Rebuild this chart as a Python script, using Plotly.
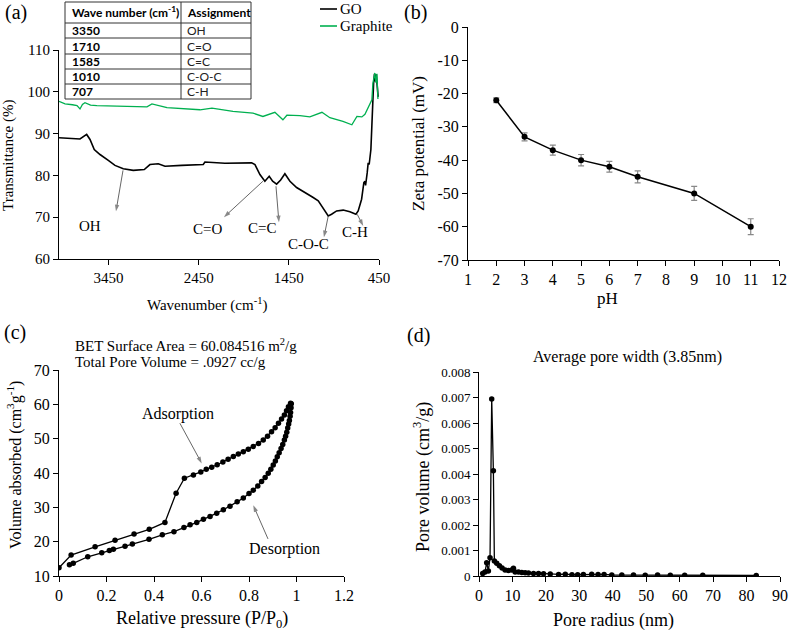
import plotly.graph_objects as go

W, H = 791, 631

# ---------------- data ----------------
# (a) FTIR
go_wavenumber = [4000, 3767, 3693, 3656, 3609, 3545, 3453, 3379, 3287, 3176, 3054, 2991, 2899, 2824, 2639,
                 2445, 2400, 2381, 2159, 1863, 1826, 1771, 1716, 1668, 1630, 1586, 1541, 1494, 1438, 1364,
                 1272, 1180, 1124, 1069, 1013, 976, 920, 847, 773, 706, 681, 643, 625, 618, 606, 599, 581,
                 570, 559, 540, 529, 522, 510, 500, 490, 480, 470, 460]
go_trans = [89.0, 88.7, 89.8, 88.6, 86.2, 85.0, 83.6, 82.4, 81.6, 81.2, 81.4, 82.6, 82.8, 82.2, 82.4,
            82.6, 82.6, 83.2, 82.9, 83.0, 82.6, 80.2, 78.6, 79.8, 78.6, 77.9, 78.9, 80.4, 78.6, 77.1,
            76.0, 74.7, 73.9, 72.1, 70.3, 70.7, 71.5, 71.7, 71.3, 70.7, 71.5, 74.3, 76.7, 78.3, 78.6, 77.6,
            80.6, 83.0, 82.6, 86.2, 92.0, 98.5, 102.0, 104.3, 102.5, 104.2, 102.0, 98.8]
graphite_wavenumber = [4000, 3933, 3850, 3800, 3767, 3740, 3712, 3650, 3579, 3300, 3024, 2969, 2802, 2436,
                       2303, 2070, 1848, 1738, 1605, 1516, 1472, 1327, 1217, 1083, 995, 850, 751, 695, 640,
                       606, 573, 529, 518, 496, 484, 473, 462]
graphite_trans = [97.7, 97.1, 96.9, 96.7, 95.9, 97.0, 97.4, 96.8, 96.7, 96.5, 96.4, 97.1, 96.2, 95.7,
                  96.1, 95.3, 94.9, 94.1, 95.1, 93.3, 94.4, 94.3, 94.0, 95.1, 93.8, 92.9, 92.1, 94.1, 94.0,
                  94.6, 96.2, 98.1, 102.0, 104.5, 102.2, 104.3, 98.3]
ftir_xticks = [3450, 2450, 1450, 450]
table_wavenumbers = ["3350", "1710", "1585", "1010", "707"]
table_assignments = ["OH", "C=O", "C=C", "C-O-C", "C-H"]
# peak labels and their arrows (text position, arrow tail, arrow head)
peak_labels = ["OH", "C=O", "C=C", "C-O-C", "C-H"]
peak_text_wn = [3660, 2348, 1745, 1227, 714]
peak_text_t = [67.8, 67.1, 67.4, 63.6, 66.4]
peak_tail_wn = [3290, 1738, 1593, 1013, 692]
peak_tail_t = [81.2, 78.6, 77.4, 70.3, 70.7]
peak_head_wn = [3368, 2170, 1560, 1061, 625]
peak_head_t = [71.4, 70.0, 68.8, 65.2, 67.9]

# (b) zeta potential
ph = [2, 3, 4, 5, 6, 7, 9, 11]
zeta = [-22, -33, -37, -40, -42, -45, -50, -60]
zeta_err = [0.7, 1.2, 1.5, 1.7, 1.6, 1.8, 2.1, 2.4]

# (c) BET isotherm
ads_p = [0.0, 0.051, 0.152, 0.236, 0.316, 0.38, 0.446, 0.493, 0.528, 0.566, 0.597, 0.62, 0.643, 0.666,
         0.69, 0.712, 0.734, 0.755, 0.776, 0.797, 0.818, 0.84, 0.86, 0.878, 0.895, 0.91, 0.924, 0.937,
         0.949, 0.958, 0.966, 0.975]
ads_v = [12.4, 16.1, 18.5, 20.4, 22.2, 23.6, 25.6, 34.1, 38.5, 39.4, 40.3, 41.1, 41.7, 42.4,
         43.2, 44.0, 44.8, 45.5, 46.2, 46.9, 47.7, 48.6, 49.6, 50.7, 52.0, 53.2, 54.5, 55.7,
         56.9, 58.1, 59.3, 60.3]
des_p = [0.978, 0.977, 0.975, 0.973, 0.970, 0.967, 0.963, 0.959, 0.954, 0.949, 0.942, 0.935, 0.927,
         0.919, 0.911, 0.902, 0.892, 0.881, 0.868, 0.853, 0.837, 0.818, 0.80, 0.776, 0.75, 0.72, 0.692,
         0.664, 0.636, 0.608, 0.58, 0.552, 0.526, 0.484, 0.435, 0.379, 0.309, 0.278, 0.229, 0.212, 0.18,
         0.121, 0.06, 0.044]
des_v = [60.2, 59.0, 57.6, 56.5, 55.3, 54.3, 53.1, 51.9, 50.7, 49.6, 48.3, 47.1, 45.9,
         44.7, 43.5, 42.3, 41.1, 39.9, 38.7, 37.5, 36.2, 35.0, 34.0, 32.7, 31.6, 30.3, 29.3,
         28.3, 27.3, 26.5, 25.6, 24.9, 24.1, 22.9, 22.0, 20.7, 19.3, 18.7, 17.8, 17.4, 16.8,
         15.6, 13.7, 13.3]
isotherm_labels = ["Adsorption", "Desorption"]
isotherm_text_p = [0.5, 0.95]
isotherm_text_v = [57.2, 17.9]
isotherm_tail_p = [0.509, 0.88]
isotherm_tail_v = [54.5, 20.8]
isotherm_head_p = [0.601, 0.818]
isotherm_head_v = [42.8, 30.6]

# (d) pore size distribution
pore_radius = [1.1, 1.8, 2.3, 2.8, 3.3, 3.8, 4.3, 4.6, 5.3, 6.1, 6.9, 7.8, 8.8, 9.8, 10.3, 10.8, 11.8,
               12.8, 13.8, 14.8, 16.3, 17.8, 19.3, 21.3, 23.8, 25.8, 27.8, 29.5, 31.2, 33.7, 35.6, 37.4,
               39.7, 42.7, 46.2, 49.7, 53.4, 57.2, 61.5, 66.9, 82.9]
pore_volume = [0.0001, 0.00016, 0.00052, 0.0002, 0.00072, 0.00694, 0.00413, 0.00059, 0.0005, 0.0004,
               0.00031, 0.00024, 0.00022, 0.00024, 0.0003, 0.00016, 0.00016, 0.00014, 0.00013, 0.00012,
               0.0001, 0.0001, 0.00009, 0.00008, 0.00006, 0.00007, 0.00005, 0.00005, 0.00006, 0.00007,
               0.00006, 0.00006, 0.00004, 0.00004, 0.00004, 0.00003, 0.00004, 0.00003, 0.00003, 0.00003,
               0.00002]

# ---------------- helpers ----------------
SERIF = "Liberation Serif, Times New Roman, serif"
SANS = "Lato, Liberation Sans, sans-serif"
ARROW_COLOR = "#555555"


def fx(px):
    return px / W


def fy(py):
    return 1 - py / H


fig = go.Figure()

fig.add_trace(go.Scatter(x=go_wavenumber, y=go_trans, mode="lines", name="GO",
                         line=dict(color="black", width=1.6), xaxis="x", yaxis="y", showlegend=False))
fig.add_trace(go.Scatter(x=graphite_wavenumber, y=graphite_trans, mode="lines", name="Graphite",
                         line=dict(color="#00b050", width=1.3), xaxis="x", yaxis="y", showlegend=False))

fig.add_trace(go.Scatter(x=ph, y=zeta, mode="lines+markers",
                         line=dict(color="black", width=1.5), marker=dict(color="black", size=6),
                         error_y=dict(type="data", array=zeta_err, color="#888888", thickness=1.2, width=3),
                         xaxis="x2", yaxis="y2", showlegend=False))

fig.add_trace(go.Scatter(x=ads_p, y=ads_v, mode="lines+markers",
                         line=dict(color="black", width=1.3), marker=dict(color="black", size=5.5),
                         xaxis="x3", yaxis="y3", showlegend=False))
fig.add_trace(go.Scatter(x=des_p, y=des_v, mode="lines+markers",
                         line=dict(color="black", width=1.3), marker=dict(color="black", size=5.5),
                         xaxis="x3", yaxis="y3", showlegend=False))

fig.add_trace(go.Scatter(x=pore_radius, y=pore_volume, mode="lines+markers",
                         line=dict(color="black", width=1.3), marker=dict(color="black", size=5.5),
                         xaxis="x4", yaxis="y4", showlegend=False))


def arrow(x0, y0, x1, y1, xa, ya):
    fig.add_trace(go.Scatter(x=[x0, x1], y=[y0, y1], mode="lines+markers", xaxis=xa, yaxis=ya,
                             line=dict(color=ARROW_COLOR, width=0.9),
                             marker=dict(symbol="arrow", size=[0, 7], color=ARROW_COLOR, angleref="previous",
                                         line=dict(width=0)),
                             showlegend=False, hoverinfo="skip"))


for tw, tt, hw, ht in zip(peak_tail_wn, peak_tail_t, peak_head_wn, peak_head_t):
    arrow(tw, tt, hw, ht, "x", "y")
for tp, tv, hp, hv in zip(isotherm_tail_p, isotherm_tail_v, isotherm_head_p, isotherm_head_v):
    arrow(tp, tv, hp, hv, "x3", "y3")

axis_common = dict(showgrid=False, zeroline=False, showline=True, linecolor="black", linewidth=1,
                   ticks="outside", ticklen=5, tickcolor="black", tickwidth=1, automargin=False,
                   tickfont=dict(family=SERIF, size=15, color="black"))


def ax(**kw):
    d = dict(axis_common)
    d.update(kw)
    return d


zeta_ticks = list(range(-70, 1, 10))
big_tick = dict(family=SERIF, size=16, color="black")
fig.update_layout(
    template="none",
    width=W, height=H, margin=dict(l=0, r=0, t=0, b=0, autoexpand=False),
    paper_bgcolor="white", plot_bgcolor="white",
    font=dict(family=SERIF, color="black"),
    xaxis=ax(domain=[fx(59), fx(379)], range=[4000, 450], tickvals=ftir_xticks, anchor="y"),
    yaxis=ax(domain=[fy(259), fy(50)], range=[60, 110], dtick=10, anchor="x"),
    xaxis2=ax(domain=[fx(468), fx(779)], range=[1, 12], dtick=1, anchor="y2", tickfont=big_tick),
    yaxis2=ax(domain=[fy(260), fy(27)], range=[-70, 0], tickvals=zeta_ticks,
              ticktext=[str(v) for v in zeta_ticks], anchor="x2", tickfont=big_tick),
    xaxis3=ax(domain=[fx(59), fx(344)], range=[0, 1.2], dtick=0.2, anchor="y3", tickfont=big_tick),
    yaxis3=ax(domain=[fy(576), fy(370)], range=[10, 70], dtick=10, anchor="x3", tickfont=big_tick),
    xaxis4=ax(domain=[fx(479), fx(780)], range=[0, 90], dtick=10, anchor="y4", tickfont=big_tick),
    yaxis4=ax(domain=[fy(576), fy(372)], range=[0, 0.008], dtick=0.001, anchor="x4",
              tickfont=dict(family=SERIF, size=13, color="black")),
)

ann = []
shapes = []


def text(px, py, s, size=15, xanchor="center", angle=0, family=SERIF, color="black"):
    ann.append(dict(x=fx(px), y=fy(py), xref="paper", yref="paper", text=s, showarrow=False,
                    xanchor=xanchor, yanchor="middle", textangle=angle,
                    font=dict(family=family, size=size, color=color)))


# panel labels
text(3, 12, "(a)", size=20, xanchor="left")
text(402, 12, "(b)", size=20, xanchor="left")
text(2, 332, "(c)", size=20, xanchor="left")
text(405, 335, "(d)", size=20, xanchor="left")

# axis titles
text(8, 155, "Transmittance (%)", size=15, angle=-90)
text(207, 304, "Wavenumber (cm<sup>-1</sup>)", size=15)
text(418, 143, "Zeta potential (mV)", size=17, angle=-90)
text(607, 298, "pH", size=17)
text(14, 465, "Volume absorbed (cm<sup>3</sup>g<sup>-1</sup>)", size=16, angle=-90)
text(202, 619, "Relative pressure (P/P<sub>0</sub>)", size=18)
text(422, 477, "Pore volume (cm<sup>3</sup>/g)", size=18, angle=-90)
text(613, 620, "Pore radius (nm)", size=18)

# panel c / d titles
text(73, 345, "BET Surface Area = 60.084516 m<sup>2</sup>/g", size=15, xanchor="left")
text(73, 362, "Total Pore Volume = .0927 cc/g", size=15, xanchor="left")
text(627, 357, "Average pore width (3.85nm)", size=16)

# legend of panel a
text(338, 9, "GO", size=15, xanchor="left")
text(338, 26, "Graphite", size=15, xanchor="left")
shapes.append(dict(type="line", xref="paper", yref="paper", x0=fx(320), x1=fx(337), y0=fy(9), y1=fy(9),
                   line=dict(color="black", width=1.6)))
shapes.append(dict(type="line", xref="paper", yref="paper", x0=fx(320), x1=fx(337), y0=fy(26), y1=fy(26),
                   line=dict(color="#00b050", width=1.6)))

# table of panel a
tx0, tx1, tmid = 65, 251, 181
row_edges = [2, 23, 38, 54, 69, 84, 99]
shapes.append(dict(type="rect", xref="paper", yref="paper", x0=fx(tx0), x1=fx(tx1), y0=fy(row_edges[-1]),
                   y1=fy(row_edges[0]), line=dict(color="#333333", width=1), fillcolor="white", layer="above"))
shapes.append(dict(type="line", xref="paper", yref="paper", x0=fx(tmid), x1=fx(tmid), y0=fy(row_edges[-1]),
                   y1=fy(row_edges[0]), line=dict(color="#333333", width=1), layer="above"))
for e in row_edges[1:-1]:
    shapes.append(dict(type="line", xref="paper", yref="paper", x0=fx(tx0), x1=fx(tx1), y0=fy(e), y1=fy(e),
                       line=dict(color="#333333", width=1), layer="above"))
text(70, 12, "<b>Wave number (cm<sup>-1</sup>)</b>", size=12, xanchor="left", family=SANS)
text(185, 12, "<b>Assignment</b>", size=12, xanchor="left", family=SANS)
for i, (wn, asg) in enumerate(zip(table_wavenumbers, table_assignments)):
    cy = (row_edges[i + 1] + row_edges[i + 2]) / 2
    text(70, cy, "<b>" + wn + "</b>", size=12, xanchor="left", family=SANS)
    text(185, cy, asg, size=12, xanchor="left", family=SANS, color="#222222")

# peak labels in panel a
for lab, txw, txt_t in zip(peak_labels, peak_text_wn, peak_text_t):
    ann.append(dict(x=txw, y=txt_t, xref="x", yref="y", text=lab, showarrow=False,
                    font=dict(family=SERIF, size=15, color="black")))

# labels in panel c
for lab, tp, tv in zip(isotherm_labels, isotherm_text_p, isotherm_text_v):
    ann.append(dict(x=tp, y=tv, xref="x3", yref="y3", text=lab, showarrow=False,
                    font=dict(family=SERIF, size=16, color="black")))

fig.update_layout(annotations=ann, shapes=shapes)
fig.write_html("out.html", config={"displayModeBar": False},
               post_script="document.body.style.margin='0';document.body.style.padding='0';"
                           "document.body.style.overflow='hidden';")
